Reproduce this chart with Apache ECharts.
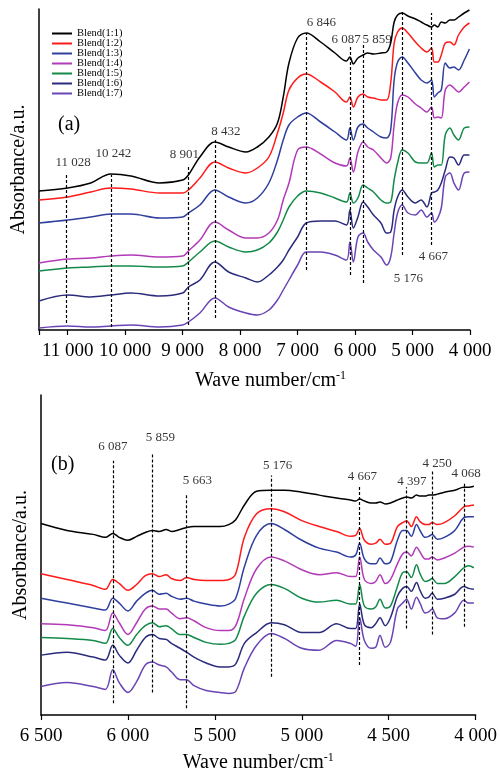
<!DOCTYPE html>
<html><head><meta charset="utf-8">
<script src="https://cdn.jsdelivr.net/npm/echarts@6/dist/echarts.min.js"></script>
<style>html,body{margin:0;padding:0;background:#fff}#c{width:500px;height:774px}</style>
</head><body><div id="c"></div><script>
// ---------- data ----------
const seriesNames = ['Blend(1:1)','Blend(1:2)','Blend(1:3)','Blend(1:4)','Blend(1:5)','Blend(1:6)','Blend(1:7)'];

// panel (a): wavenumber / cm-1
const wnA = [11500,11000,10600,10250,9900,9400,9000,8900,8700,8440,8200,7900,7700,7500,7350,7250,7150,7000,6850,6600,6350,6150,6090,6030,5950,5860,5780,5680,5550,5450,5380,5320,5260,5180,5080,4950,4850,4750,4670,4620,4560,4500,4430,4350,4280,4200,4100,4010];
const a11 = [1.39,1.42,1.47,1.56,1.54,1.47,1.50,1.55,1.73,1.88,1.83,1.78,1.83,1.93,2.07,2.33,2.67,2.92,2.97,2.88,2.77,2.69,2.73,2.66,2.72,2.75,2.77,2.76,2.77,2.78,2.87,3.08,3.15,3.17,3.14,3.11,3.08,3.05,3.03,3.05,3.03,3.08,3.07,3.10,3.10,3.13,3.17,3.20];
const a12 = [1.30,1.33,1.38,1.42,1.41,1.37,1.37,1.40,1.52,1.68,1.62,1.57,1.62,1.73,1.97,2.17,2.40,2.52,2.56,2.48,2.38,2.28,2.33,2.23,2.33,2.36,2.33,2.32,2.30,2.30,2.47,2.87,2.98,3.02,2.97,2.88,2.82,2.78,2.82,2.68,2.68,2.75,2.87,2.88,2.85,2.95,3.03,3.07];
const a13 = [1.07,1.10,1.13,1.16,1.16,1.12,1.13,1.17,1.25,1.40,1.33,1.27,1.32,1.47,1.70,1.90,2.05,2.13,2.17,2.08,1.98,1.90,2.02,1.90,2.03,2.06,2.02,1.98,1.93,1.92,2.00,2.50,2.68,2.73,2.67,2.57,2.50,2.47,2.50,2.33,2.37,2.40,2.67,2.62,2.63,2.60,2.70,2.81];
const a14 = [0.67,0.71,0.72,0.74,0.75,0.73,0.74,0.79,0.90,1.08,1.00,0.92,0.92,0.97,1.10,1.30,1.47,1.80,1.83,1.76,1.67,1.64,1.72,1.58,1.78,1.88,1.83,1.80,1.72,1.67,1.72,2.05,2.27,2.35,2.33,2.26,2.22,2.18,2.23,2.12,2.13,2.12,2.40,2.45,2.42,2.38,2.43,2.48];
const a15 = [0.59,0.62,0.63,0.64,0.64,0.63,0.64,0.68,0.78,0.89,0.83,0.78,0.80,0.87,0.98,1.10,1.23,1.34,1.39,1.37,1.32,1.28,1.37,1.27,1.32,1.45,1.42,1.38,1.30,1.27,1.28,1.50,1.67,1.80,1.77,1.68,1.67,1.67,1.77,1.63,1.65,1.65,1.95,2.02,1.95,1.90,2.02,2.03];
const a16 = [0.29,0.35,0.33,0.35,0.37,0.34,0.37,0.43,0.50,0.68,0.58,0.52,0.48,0.55,0.63,0.70,0.80,0.93,1.07,1.09,1.09,1.05,1.20,1.02,1.13,1.28,1.23,1.15,1.07,0.97,0.98,1.20,1.33,1.40,1.33,1.27,1.30,1.23,1.37,1.38,1.40,1.47,1.60,1.73,1.72,1.65,1.75,1.75];
const a17 = [0.02,0.04,0.03,0.04,0.05,0.03,0.05,0.08,0.17,0.32,0.23,0.17,0.15,0.20,0.30,0.40,0.50,0.65,0.78,0.78,0.75,0.70,0.88,0.68,0.93,0.97,0.88,0.80,0.73,0.65,0.73,0.97,1.17,1.25,1.17,1.15,1.20,1.13,1.17,1.08,1.12,1.22,1.53,1.57,1.47,1.40,1.57,1.58];

// panel (b)
const wnB = [6500,6350,6200,6130,6087,6050,6000,5950,5900,5859,5820,5780,5750,5700,5663,5620,5550,5470,5420,5380,5330,5260,5176,5100,5000,4900,4800,4720,4690,4667,4640,4600,4575,4550,4520,4490,4450,4420,4397,4370,4340,4320,4290,4270,4250,4220,4180,4120,4068,4040,4010];
const b11 = [1.95,1.88,1.84,1.81,1.85,1.81,1.78,1.82,1.86,1.88,1.87,1.89,1.87,1.89,1.91,1.92,1.92,1.92,1.94,1.99,2.14,2.28,2.29,2.29,2.27,2.24,2.21,2.19,2.18,2.20,2.18,2.16,2.16,2.17,2.15,2.16,2.19,2.21,2.22,2.21,2.24,2.23,2.23,2.24,2.24,2.25,2.27,2.29,2.32,2.32,2.33];
const b12 = [1.44,1.38,1.32,1.28,1.38,1.34,1.27,1.33,1.42,1.44,1.41,1.43,1.39,1.37,1.40,1.38,1.37,1.37,1.38,1.44,1.81,2.05,2.10,2.07,1.98,1.92,1.87,1.82,1.83,1.90,1.78,1.74,1.75,1.79,1.74,1.75,1.92,1.96,1.98,1.92,2.02,1.97,1.94,1.94,1.96,1.94,1.96,2.03,2.12,2.13,2.14];
const b13 = [1.19,1.14,1.09,1.07,1.19,1.14,1.06,1.16,1.24,1.27,1.23,1.24,1.21,1.18,1.19,1.16,1.13,1.11,1.13,1.19,1.51,1.83,1.95,1.89,1.78,1.70,1.66,1.61,1.63,1.75,1.59,1.54,1.54,1.60,1.54,1.56,1.78,1.88,1.88,1.82,1.94,1.88,1.81,1.82,1.84,1.79,1.81,1.88,2.01,2.02,2.02];
const b14 = [0.93,0.92,0.89,0.86,1.04,0.94,0.82,0.94,1.08,1.11,1.08,1.08,1.04,0.98,0.99,0.96,0.89,0.86,0.86,0.91,1.19,1.49,1.61,1.57,1.48,1.43,1.45,1.41,1.41,1.61,1.38,1.34,1.36,1.43,1.34,1.38,1.54,1.64,1.66,1.62,1.71,1.66,1.59,1.59,1.61,1.58,1.60,1.65,1.71,1.72,1.71];
const b15 = [0.79,0.78,0.76,0.73,0.88,0.79,0.71,0.82,0.91,0.94,0.90,0.91,0.88,0.82,0.82,0.79,0.74,0.72,0.73,0.77,1.01,1.24,1.33,1.29,1.19,1.15,1.17,1.13,1.13,1.33,1.11,1.08,1.10,1.18,1.09,1.11,1.31,1.45,1.46,1.40,1.53,1.44,1.36,1.37,1.39,1.34,1.34,1.41,1.50,1.52,1.50];
const b16 = [0.61,0.64,0.59,0.56,0.71,0.61,0.53,0.66,0.79,0.82,0.78,0.77,0.73,0.68,0.64,0.59,0.53,0.49,0.49,0.52,0.73,0.84,0.94,0.92,0.84,0.84,0.93,0.88,0.88,1.13,0.92,0.89,0.93,0.99,0.91,0.99,1.21,1.29,1.31,1.26,1.35,1.27,1.19,1.20,1.24,1.18,1.19,1.23,1.31,1.29,1.28];
const b17 = [0.29,0.33,0.29,0.26,0.46,0.33,0.23,0.34,0.51,0.54,0.51,0.49,0.44,0.36,0.36,0.30,0.25,0.23,0.22,0.24,0.48,0.71,0.83,0.78,0.68,0.66,0.76,0.73,0.70,0.99,0.76,0.68,0.69,0.81,0.69,0.74,1.08,1.14,1.18,1.08,1.20,1.14,1.04,1.05,1.08,0.99,0.98,1.04,1.17,1.14,1.14];

// tick labels
const tickValuesA = [11000,10000,9000,8000,7000,6000,5000,4000];
const tickLabelsA = ['11 000','10 000','9 000','8 000','7 000','6 000','5 000','4 000'];
const tickValuesB = [6500,6000,5500,5000,4500,4000];
const tickLabelsB = ['6 500','6 000','5 500','5 000','4 500','4 000'];

// peak annotations (wavenumber, dashed-line extent in absorbance, label anchor)
const annWnA = [11028,10242,8901,8432,6846,6087,5859,5176,4667];
const annLabelA = ['11 028','10 242','8 901','8 432','6 846','6 087','5 859','5 176','4 667'];
const annLowA = [0.07,0.03,0.05,0.12,0.60,0.55,0.47,0.75,0.85];
const annHighA = [1.56,1.55,1.65,1.90,2.97,2.83,2.87,3.18,3.17];
const labelWnA = [10906,10207,8971,8249,6585,6157,5615,5072,4637];
const labelYA = [1.67,1.76,1.75,1.98,3.07,2.90,2.90,0.51,0.73];

const annWnB = [6087,5859,5663,5176,4667,4397,4250,4068];
const annLabelB = ['6 087','5 859','5 663','5 176','4 667','4 397','4 250','4 068'];
const annLowB = [0.12,0.23,0.07,0.39,0.51,0.88,0.82,0.90];
const annHighB = [2.59,2.66,2.24,2.44,2.33,2.32,2.48,2.36];
const labelWnB = [6087,5813,5600,5139,4652,4366,4221,4054];
const labelYB = [2.73,2.83,2.39,2.54,2.43,2.38,2.56,2.46];

// ---------- styles ----------
const colors = ['#000000','#ff1a1a','#2e3f9e','#b23ab8','#138a4a','#2b2b7e','#6a44b4'];
const FONT = '"Liberation Serif","Times New Roman",serif';
const seriesA = [a11,a12,a13,a14,a15,a16,a17];
const seriesB = [b11,b12,b13,b14,b15,b16,b17];

function pair(xs, ys){ return xs.map((x,i)=>[x, ys[i]]); }
function fmt(vals, labs){ return v => { const i = vals.indexOf(v); return i >= 0 ? labs[i] : ''; }; }

const series = [];
seriesA.forEach((d,k)=>series.push({
  name: seriesNames[k], type:'line', xAxisIndex:0, yAxisIndex:0, data: pair(wnA,d),
  symbol:'none', smooth:0.35, lineStyle:{width:1.5, color:colors[k]}, itemStyle:{color:colors[k]}, z:3
}));
seriesB.forEach((d,k)=>series.push({
  name: seriesNames[k], type:'line', xAxisIndex:1, yAxisIndex:1, data: pair(wnB,d),
  symbol:'none', smooth:0.35, lineStyle:{width:1.5, color:colors[k]}, itemStyle:{color:colors[k]}, z:3
}));
function annSeries(idx, wn, labels, lo, hi, lx, ly){
  return {
    name:'ann'+idx, type:'scatter', xAxisIndex:idx, yAxisIndex:idx, symbolSize:0, silent:true, z:4,
    data: labels.map((t,i)=>({name:t, value:[lx[i], ly[i]]})),
    label:{show:true, position:'inside', formatter:'{b}', color:'#000', fontFamily:FONT, fontSize:13},
    markLine:{
      silent:true, symbol:'none', animation:false,
      lineStyle:{type:[3,2], color:'#000', width:1.2},
      label:{show:false},
      data: wn.map((w,i)=>[{coord:[w, lo[i]]},{coord:[w, hi[i]]}])
    }
  };
}
series.push(annSeries(0, annWnA, annLabelA, annLowA, annHighA, labelWnA, labelYA));
series.push(annSeries(1, annWnB, annLabelB, annLowB, annHighB, labelWnB, labelYB));

const axisLine = {show:true, lineStyle:{color:'#000', width:1.5}};
function xAxis(idx, min, max, interval, vals, labs, gap, padLeft){
  return {
    gridIndex:idx, type:'value', inverse:true, min, max, interval,
    name:'Wave number/cm{sup|-1}', nameLocation:'middle', nameGap:gap,
    nameTextStyle:{color:'#000', fontFamily:FONT, fontSize:20, padding:[0,0,0,padLeft],
      rich:{sup:{fontSize:12, verticalAlign:'top', padding:[0,0,10,0], fontFamily:FONT, color:'#000'}}},
    axisLine, splitLine:{show:false},
    axisTick:{show:true, inside:false, length:5, lineStyle:{color:'#000', width:1.2}},
    axisLabel:{color:'#000', fontFamily:FONT, fontSize:19, margin:12, formatter:fmt(vals,labs), showMaxLabel:true}
  };
}
function yAxis(idx, max){
  return {
    gridIndex:idx, type:'value', min:0, max, axisLine, axisTick:{show:false}, axisLabel:{show:false},
    splitLine:{show:false}, name:'Absorbance/a.u.', nameLocation:'middle', nameGap:10,
    nameTextStyle:{color:'#000', fontFamily:FONT, fontSize:20}
  };
}

const option = {
  animation:false,
  backgroundColor:'#ffffff',
  grid:[
    {left:39, top:9, width:431, height:321},
    {left:41, top:395, width:437, height:326}
  ],
  xAxis:[
    xAxis(0, 4000, 11500, 1000, tickValuesA, tickLabelsA, 40, 32),
    xAxis(1, 4000, 6500, 500, tickValuesB, tickLabelsB, 37, 0)
  ],
  yAxis:[ yAxis(0, 3.21), yAxis(1, 3.26) ],
  legend:{
    data: seriesNames, orient:'vertical', left:52, top:28, icon:'rect',
    itemWidth:20, itemHeight:2, itemGap:-1, padding:0,
    textStyle:{fontFamily:FONT, fontSize:10.5, color:'#000', lineHeight:9}
  },
  graphic:[
    {type:'text', left:58, top:115, style:{text:'(a)', fontFamily:FONT, fontSize:20, fill:'#000'}},
    {type:'text', left:51, top:455, style:{text:'(b)', fontFamily:FONT, fontSize:20, fill:'#000'}}
  ],
  series
};
const chart = echarts.init(document.getElementById('c'), null, {renderer:'canvas'});
chart.setOption(option);
</script></body></html>
